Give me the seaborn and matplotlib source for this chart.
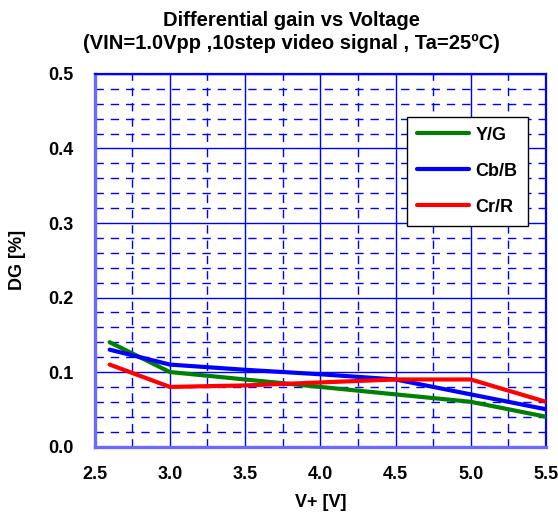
import numpy as np
import pandas as pd
import matplotlib
matplotlib.use("Agg")
import matplotlib.pyplot as plt
from matplotlib.ticker import MultipleLocator, FormatStrFormatter
import seaborn as sns

voltage = [2.6, 3.0, 3.5, 4.0, 4.5, 5.0, 5.5]
dg_yg = [0.14, 0.10, 0.09, 0.08, 0.07, 0.06, 0.04]
dg_cbb = [0.13, 0.11, 0.103, 0.097, 0.09, 0.07, 0.05]
dg_crr = [0.11, 0.08, 0.082, 0.086, 0.09, 0.09, 0.06]
series_names = ["Y/G", "Cb/B", "Cr/R"]
series_colors = ["#008000", "#0000FF", "#FF0000"]

df = pd.DataFrame({
    "V": voltage * 3,
    "DG": dg_yg + dg_cbb + dg_crr,
    "series": [n for n in series_names for _ in voltage],
})

sns.set_style("white")
plt.rcParams["font.family"] = ["Liberation Sans", "DejaVu Sans"]
plt.rcParams["font.weight"] = "bold"
plt.rcParams["text.color"] = "black"
plt.rcParams["axes.labelcolor"] = "black"
plt.rcParams["xtick.color"] = "black"
plt.rcParams["ytick.color"] = "black"

fig = plt.figure(figsize=(5.58, 5.27), dpi=100)
ax = fig.add_axes([0.1695, 0.1527, 0.8090, 0.7069])

sns.lineplot(data=df, x="V", y="DG", hue="series", hue_order=series_names,
             palette=series_colors, linewidth=3, ax=ax, zorder=3)

ax.set_xlim(2.5, 5.5)
ax.set_ylim(0.0, 0.5)
ax.xaxis.set_major_locator(MultipleLocator(0.5))
ax.xaxis.set_minor_locator(MultipleLocator(0.25))
ax.yaxis.set_major_locator(MultipleLocator(0.1))
ax.yaxis.set_minor_locator(MultipleLocator(0.02))
ax.xaxis.set_major_formatter(FormatStrFormatter("%.1f"))
ax.yaxis.set_major_formatter(FormatStrFormatter("%.1f"))

ax.grid(which="major", color="#0000FF", linestyle="-", linewidth=1.0)
ax.grid(which="minor", color="#0000FF", linestyle=(0, (6, 5)), linewidth=1.0)
ax.set_axisbelow(True)
ax.tick_params(which="both", length=0, labelsize=13, labelcolor="black")
ax.tick_params(axis="y", pad=15)
ax.tick_params(axis="x", pad=14)
for lab in ax.get_xticklabels() + ax.get_yticklabels():
    lab.set_fontweight("bold")

for side in ["top", "right"]:
    ax.spines[side].set_color("#0000FF")
    ax.spines[side].set_linewidth(1.6)
for side in ["left", "bottom"]:
    ax.spines[side].set_color("#6a6aff")
    ax.spines[side].set_linewidth(2.4)

ax.set_xlabel("V+ [V]", fontsize=13, fontweight="bold", labelpad=8, color="black")
ax.set_ylabel("DG [%]", fontsize=13, fontweight="bold", labelpad=16, color="black")
fig.text(0.522, 0.9, "Differential gain vs Voltage\n(VIN=1.0Vpp ,10step video signal , Ta=25\u00baC)",
         ha="center", va="bottom", multialignment="center", color="black",
         fontsize=14.5, fontweight="bold", linespacing=1.25)

leg = ax.legend(loc="upper left", bbox_to_anchor=(0.692, 0.885), borderaxespad=0,
                fontsize=13, frameon=True, fancybox=False, edgecolor="black",
                framealpha=1, handlelength=2.9, handletextpad=0.35,
                labelspacing=1.05, borderpad=0.55)
leg.get_frame().set_linewidth(1.0)
for line in leg.get_lines():
    line.set_linewidth(3)
for t in leg.get_texts():
    t.set_fontweight("bold")
    t.set_color("black")

fig.savefig("out.png", dpi=100)
